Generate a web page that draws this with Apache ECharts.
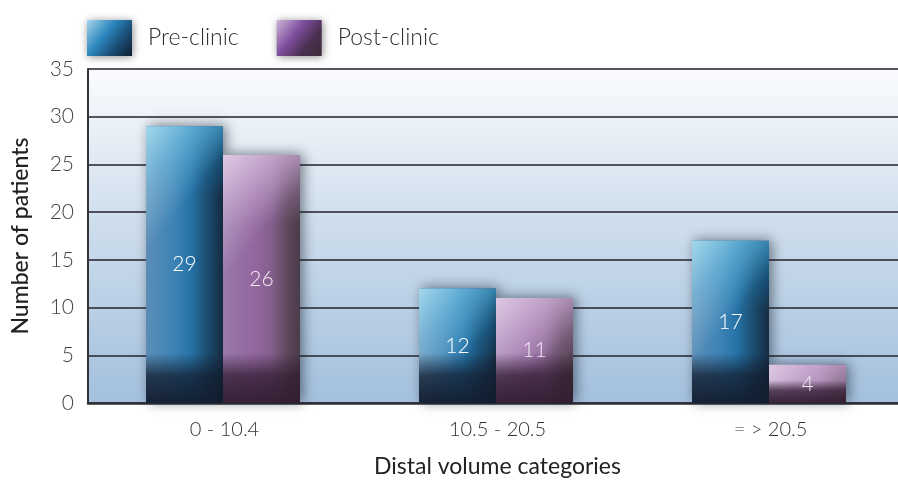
<!DOCTYPE html>
<html>
<head>
<meta charset="utf-8">
<script src="https://cdn.jsdelivr.net/npm/echarts@6/dist/echarts.min.js"></script>
<style>
  html, body { margin: 0; padding: 0; background: #ffffff; }
  #chart { width: 898px; height: 481px; }
</style>
</head>
<body>
<div id="chart"></div>
<script>
// Patient counts per distal volume category
const categories = ['0 - 10.4', '10.5 - 20.5', '= > 20.5'];
const preClinic = [29, 12, 17];
const postClinic = [26, 11, 4];
const yTicks = [0, 5, 10, 15, 20, 25, 30, 35];

const FONT = 'Lato, "Open Sans", sans-serif';
const G = echarts.graphic;

// Colour sets for the shaded bars
const palettes = {
  pre: {
    base: [[0, '#5b8db7'], [0.35, '#3e84b6'], [0.58, '#2673a7'], [0.82, '#1b4869'], [1, '#152d45']],
    topTint: 'rgba(28,140,200,',
    glow: 'rgba(185,228,242,',
    dark: 'rgba(18,28,46,',
    label: '#ffffff',
    legend: [[0, '#a6d6ea'], [0.4, '#2b86bd'], [0.7, '#1a4b72'], [1, '#0f1d30']]
  },
  post: {
    base: [[0, '#9878aa'], [0.4, '#9367a0'], [0.62, '#85618f'], [0.85, '#5b4659'], [1, '#4a3b49']],
    topTint: 'rgba(190,150,200,',
    glow: 'rgba(228,210,232,',
    dark: 'rgba(48,28,48,',
    label: '#f1e8f2',
    legend: [[0, '#cdb5d8'], [0.4, '#7d4d9c'], [0.7, '#4a3050'], [1, '#3a2d38']]
  }
};

function barRenderer(side, pal) {
  return function (params, api) {
    const cat = api.value(0);
    const val = api.value(1);
    const base = api.coord([cat, 0]);
    const top = api.coord([cat, val]);
    const bw = api.size([1, 0])[0] * 0.282;
    const x = side === 0 ? base[0] - bw - 1.5 : base[0] - 1.5;
    const y = top[1];
    const h = base[1] - top[1];
    const shape = { x: x, y: y, width: bw, height: h };
    // darker band at the foot of the bar, shorter on low bars
    const band = Math.min(50, h * 0.6);
    return {
      type: 'group',
      children: [
        {
          type: 'rect', shape: shape,
          style: {
            fill: new G.LinearGradient(0, 0, 1, 0, pal.base.map(s => ({ offset: s[0], color: s[1] }))),
            shadowBlur: 12, shadowColor: 'rgba(20,28,40,0.55)', shadowOffsetX: 3, shadowOffsetY: -1
          }
        },
        {
          type: 'rect', shape: shape, silent: true,
          style: {
            fill: new G.LinearGradient(0, y, 0, y + 70, [
              { offset: 0, color: pal.topTint + '0.7)' },
              { offset: 1, color: pal.topTint + '0)' }
            ], true)
          }
        },
        {
          type: 'rect', shape: shape, silent: true,
          style: {
            fill: new G.LinearGradient(x, y, x + bw * 0.8, y + 50, [
              { offset: 0, color: pal.glow + '0.85)' },
              { offset: 0.45, color: pal.glow + '0.4)' },
              { offset: 1, color: pal.glow + '0)' }
            ], true)
          }
        },
        {
          type: 'rect', shape: shape, silent: true,
          style: {
            fill: new G.LinearGradient(0, base[1] - band, 0, base[1], [
              { offset: 0, color: pal.dark + '0)' },
              { offset: 0.45, color: pal.dark + '0.75)' },
              { offset: 1, color: pal.dark + '0.95)' }
            ], true)
          }
        },
        {
          type: 'text', silent: true,
          x: x + bw / 2, y: y + h / 2,
          style: {
            text: String(val), fill: pal.label,
            fontFamily: FONT, fontWeight: 300, fontSize: 21,
            align: 'center', verticalAlign: 'middle'
          }
        }
      ]
    };
  };
}

function seriesData(values) {
  return values.map((v, i) => [i, v]);
}

function legendGradient(stops) {
  return new G.LinearGradient(0, 0, 1, 1, stops.map(s => ({ offset: s[0], color: s[1] })));
}

const chart = echarts.init(document.getElementById('chart'), null, { renderer: 'canvas' });

chart.setOption({
  animation: false,
  backgroundColor: '#ffffff',
  legend: {
    left: 87, top: 20, padding: 0,
    itemWidth: 45, itemHeight: 36, itemGap: 38,
    icon: 'rect',
    textStyle: { fontFamily: FONT, fontWeight: 300, fontSize: 23, color: '#2e2e2e', padding: [0, 0, 0, 11] },
    itemStyle: { shadowBlur: 8, shadowColor: 'rgba(0,0,0,0.45)', shadowOffsetX: 1, shadowOffsetY: 1 },
    data: [
      { name: 'Pre-clinic', itemStyle: { color: legendGradient(palettes.pre.legend) } },
      { name: 'Post-clinic', itemStyle: { color: legendGradient(palettes.post.legend) } }
    ]
  },
  grid: {
    left: 88, top: 69, right: -9, bottom: 78,
    outerBoundsMode: 'none',
    containLabel: false,
    show: true, borderWidth: 0,
    backgroundColor: new G.LinearGradient(0, 0, 0, 1, [
      { offset: 0, color: '#fbfcfe' },
      { offset: 0.45, color: '#cfdeed' },
      { offset: 1, color: '#a3c0dd' }
    ])
  },
  xAxis: {
    type: 'category',
    data: categories,
    name: 'Distal volume categories',
    nameLocation: 'middle', nameGap: 52,
    nameTextStyle: { fontFamily: FONT, fontSize: 23, color: '#222222' },
    axisLine: { lineStyle: { color: '#2e2e33', width: 2.5 } },
    axisTick: { inside: true, length: 8, lineStyle: { color: '#2e2e33', width: 2 } },
    axisLabel: { fontFamily: FONT, fontWeight: 300, fontSize: 20, color: '#333333', margin: 17 }
  },
  yAxis: {
    type: 'value',
    min: yTicks[0], max: yTicks[yTicks.length - 1], interval: yTicks[1] - yTicks[0],
    name: 'Number of patients',
    nameLocation: 'middle', nameGap: 56, nameRotate: 90,
    nameTextStyle: { fontFamily: FONT, fontWeight: 500, fontSize: 23, color: '#222222' },
    axisLine: { show: true, lineStyle: { color: '#333338', width: 2 } },
    axisTick: { show: false },
    axisLabel: { fontFamily: FONT, fontWeight: 300, fontSize: 21, color: '#444444', margin: 14 },
    splitLine: { show: true, lineStyle: { color: 'rgba(45,45,55,0.8)', width: 1.8 } }
  },
  series: [
    {
      name: 'Pre-clinic', type: 'custom',
      itemStyle: { color: legendGradient(palettes.pre.legend) },
      renderItem: barRenderer(0, palettes.pre),
      encode: { x: 0, y: 1 },
      data: seriesData(preClinic)
    },
    {
      name: 'Post-clinic', type: 'custom',
      itemStyle: { color: legendGradient(palettes.post.legend) },
      renderItem: barRenderer(1, palettes.post),
      encode: { x: 0, y: 1 },
      data: seriesData(postClinic)
    }
  ]
});
</script>
</body>
</html>
